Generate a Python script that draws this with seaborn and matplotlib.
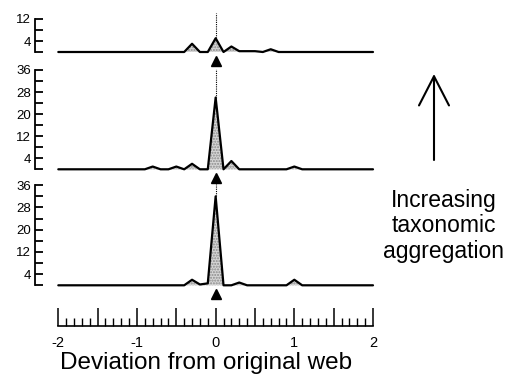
import numpy as np
import pandas as pd
import seaborn as sns
import matplotlib
matplotlib.use("Agg")
import matplotlib.pyplot as plt
from matplotlib.ticker import FixedLocator, FuncFormatter

# deviation bins (x) and frequencies for each level of aggregation
deviation = [-2.0, -1.9, -1.8, -1.7, -1.6, -1.5, -1.4, -1.3, -1.2, -1.1,
             -1.0, -0.9, -0.8, -0.7, -0.6, -0.5, -0.4, -0.3, -0.2, -0.1,
             0.0, 0.1, 0.2, 0.3, 0.4, 0.5, 0.6, 0.7, 0.8, 0.9,
             1.0, 1.1, 1.2, 1.3, 1.4, 1.5, 1.6, 1.7, 1.8, 1.9, 2.0]

freq_top = [0, 0, 0, 0, 0, 0, 0, 0, 0, 0,
            0, 0, 0, 0, 0, 0, 0, 3, 0, 0,
            5, 0, 2, 0.3, 0.3, 0.3, 0, 1, 0, 0,
            0, 0, 0, 0, 0, 0, 0, 0, 0, 0, 0]

freq_mid = [0, 0, 0, 0, 0, 0, 0, 0, 0, 0,
            0, 0, 1, 0, 0, 1, 0, 2, 0, 0,
            26, 0, 3, 0, 0, 0, 0, 0, 0, 0,
            1, 0, 0, 0, 0, 0, 0, 0, 0, 0, 0]

freq_bot = [0, 0, 0, 0, 0, 0, 0, 0, 0, 0,
            0, 0, 0, 0, 0, 0, 0, 2, 0.3, 0.7,
            32, 0, 0, 1, 0, 0, 0, 0, 0, 0,
            2, 0, 0, 0, 0, 0, 0, 0, 0, 0, 0]

ymax = [12, 36, 36]
ytick_step = 4
ylabels_at = [[4, 12], [4, 12, 20, 28, 36], [4, 12, 20, 28, 36]]
dotted_top = [14.2, 36.5, 36.3]
scale_major = [-2.0, -1.5, -1.0, -0.5, 0.0, 0.5, 1.0, 1.5, 2.0]
scale_labels = ["-2", "", "-1", "", "0", "", "1", "", "2"]
title_text = "Deviation from original web"
side_text = "Increasing\ntaxonomic\naggregation"

sns.set_style("ticks")
plt.rcParams['font.family'] = ['Liberation Sans', 'DejaVu Sans']
plt.rcParams['text.color'] = 'black'
plt.rcParams['xtick.color'] = 'black'
plt.rcParams['ytick.color'] = 'black'
plt.rcParams['axes.edgecolor'] = 'black'
plt.rcParams['axes.labelcolor'] = 'black'

W, H = 512, 374
fig = plt.figure(figsize=(W / 100, H / 100), dpi=100)

px_per_unit = 78.7
x_left = -2 - (58.3 - 35) / px_per_unit
x_right = 2 + (378 - 373) / px_per_unit

# pixel layout: (top, bottom, baseline, px per y unit)
panels = [(10, 56, 52, 2.75), (66, 172, 169.3, 2.76), (182, 288, 285.3, 2.78)]
series = [freq_top, freq_mid, freq_bot]

def frac_axes(top, bottom):
    return fig.add_axes([35 / W, 1 - bottom / H, (378 - 35) / W, (bottom - top) / H])

for k, (top, bottom, base, ppu) in enumerate(panels):
    ax = frac_axes(top, bottom)
    df = pd.DataFrame({"dev": deviation, "freq": series[k]})
    ax.fill_between(df["dev"], 0, df["freq"], facecolor="#d6d6d6",
                    edgecolor="#8a8a8a", hatch="......", linewidth=0)
    sns.lineplot(data=df, x="dev", y="freq", ax=ax, color="black", lw=1.6,
                 estimator=None, sort=False)
    peak = df.loc[df["dev"] == 0.0, "freq"].iloc[0]
    ax.plot([0, 0], [peak, dotted_top[k]], ls=(0, (1, 1)), color="black", lw=0.8)
    ax.plot([0], [-(8.7 / ppu)], marker="^", color="black", ms=7,
            clip_on=False, ls="none")
    ax.set_xlim(x_left, x_right)
    ax.set_ylim(-(bottom - base) / ppu, (base - top) / ppu)
    for s in ["top", "right", "bottom"]:
        ax.spines[s].set_visible(False)
    ax.spines["left"].set_bounds(0, ymax[k])
    ax.spines["left"].set_linewidth(1.3)
    ax.set_xticks([])
    yt = np.arange(0, ymax[k] + 1, ytick_step)
    ax.set_yticks(yt)
    ax.set_yticklabels([str(v) if v in ylabels_at[k] else "" for v in yt])
    ax.tick_params(axis="y", direction="in", length=6, width=1.3,
                   labelsize=9.5, pad=3)
    ax.set_xlabel("")
    ax.set_ylabel("")
    ax.patch.set_alpha(0)

# bottom scale axis
axb = fig.add_axes([35 / W, 1 - 326 / H, (378 - 35) / W, 20 / H])
axb.set_xlim(x_left, x_right)
axb.set_ylim(0, 1)
for s in ["top", "right", "left"]:
    axb.spines[s].set_visible(False)
axb.spines["bottom"].set_bounds(-2, 2)
axb.spines["bottom"].set_linewidth(1.2)
axb.set_yticks([])
axb.xaxis.set_major_locator(FixedLocator(scale_major))
axb.xaxis.set_minor_locator(FixedLocator(deviation))
axb.xaxis.set_major_formatter(FuncFormatter(lambda v, p: scale_labels[p] if p is not None else ""))
axb.tick_params(axis="x", which="major", direction="in", length=13, width=1.1,
                labelsize=10.5, pad=7)
axb.tick_params(axis="x", which="minor", direction="in", length=6, width=1.0)
axb.set_xlabel(title_text, fontsize=17.5, labelpad=1.5)
axb.patch.set_alpha(0)

# arrow and side text
fig.patches.append(matplotlib.patches.FancyArrowPatch(
    (434 / W, 1 - 160 / H), (434 / W, 1 - 74 / H),
    transform=fig.transFigure, arrowstyle="->,head_length=1.05,head_width=0.54",
    color="black", lw=1.5, mutation_scale=20, shrinkA=0, shrinkB=0))
fig.text(444 / W, 1 - 226 / H, side_text, ha="center", va="center",
         fontsize=16.5, linespacing=1.15)

fig.savefig("out.png", dpi=100)
